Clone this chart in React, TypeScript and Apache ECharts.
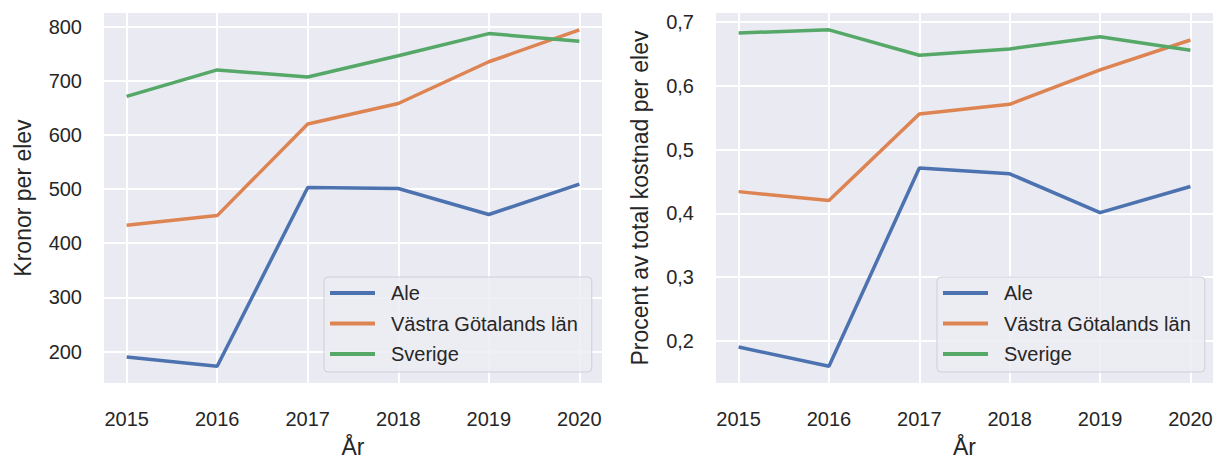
import React, { useEffect, useRef } from "react";
import * as echarts from "echarts";

const years = [2015, 2016, 2017, 2018, 2019, 2020];
const seriesNames = ["Ale", "Västra Götalands län", "Sverige"];
const kronorAle = [190, 173, 503, 501, 453, 509];
const kronorVGL = [433, 451, 620, 658, 735, 794];
const kronorSverige = [671, 720, 707, 746, 787, 773];
const procentAle = [0.19, 0.16, 0.471, 0.462, 0.401, 0.442];
const procentVGL = [0.434, 0.42, 0.556, 0.571, 0.625, 0.672];
const procentSverige = [0.683, 0.688, 0.648, 0.658, 0.677, 0.656];
const kronorTicks = [200, 300, 400, 500, 600, 700, 800];
const procentTicks = [0.2, 0.3, 0.4, 0.5, 0.6, 0.7];

const colors = ["#4C72B0", "#DD8452", "#55A868"];
const FONT = "Liberation Sans, Arial, sans-serif";
const TEXT = "#262626";

function pairs(vals: number[]) {
  return years.map((y, i) => [y, vals[i]]);
}

export default function App() {
  const ref = useRef<HTMLDivElement>(null);
  useEffect(() => {
    if (!ref.current) return;
    const chart = echarts.init(ref.current, undefined, { renderer: "svg" });
    const grids = [
      { left: 104, top: 13, width: 498, height: 370 },
      { left: 716, top: 13, width: 497, height: 370 },
    ].map((g) => ({
      ...g,
      show: true,
      backgroundColor: "#EAEAF2",
      borderWidth: 0,
      containLabel: false,
      outerBoundsMode: "none",
    }));
    const xAxisBase = (gi: number) => ({
      type: "value",
      gridIndex: gi,
      min: 2014.75,
      max: 2020.25,
      name: "År",
      nameLocation: "middle",
      nameGap: 52,
      nameTextStyle: { fontSize: 23, color: TEXT, fontFamily: FONT },
      axisLine: { show: false },
      axisTick: { show: false, customValues: years },
      axisLabel: {
        customValues: years,
        fontSize: 20,
        color: TEXT,
        fontFamily: FONT,
        margin: 26,
        formatter: (v: number) => String(v),
      },
      splitLine: { show: true, lineStyle: { color: "#FFFFFF", width: 2 } },
    });
    const yAxisBase = (gi: number, min: number, max: number, ticks: number[], name: string, gap: number, fmt: (v: number) => string) => ({
      type: "value",
      gridIndex: gi,
      min,
      max,
      name,
      nameLocation: "middle",
      nameGap: gap,
      nameTextStyle: { fontSize: 23, color: TEXT, fontFamily: FONT },
      axisLine: { show: false },
      axisTick: { show: false, customValues: ticks },
      axisLabel: {
        customValues: ticks,
        fontSize: 20,
        color: TEXT,
        fontFamily: FONT,
        margin: 22,
        formatter: fmt,
      },
      splitLine: { show: true, lineStyle: { color: "#FFFFFF", width: 2 } },
    });
    const leftData = [kronorAle, kronorVGL, kronorSverige];
    const rightData = [procentAle, procentVGL, procentSverige];
    const series: any[] = [];
    [leftData, rightData].forEach((set, gi) => {
      set.forEach((vals, si) => {
        series.push({
          type: "line",
          name: seriesNames[si],
          xAxisIndex: gi,
          yAxisIndex: gi,
          data: pairs(vals),
          showSymbol: false,
          symbol: "none",
          lineStyle: { color: colors[si], width: 3.5 },
          itemStyle: { color: colors[si] },
          z: 3,
        });
      });
    });
    const legendBase = (left: number) => ({
      orient: "vertical",
      left,
      top: 277,
      data: seriesNames,
      icon: "rect",
      itemWidth: 45,
      itemHeight: 4,
      itemGap: 8.5,
      padding: [5, 14, 7, 6],
      backgroundColor: "rgba(236,236,243,0.85)",
      borderColor: "#CFCFD6",
      borderWidth: 1,
      borderRadius: 4,
      selectedMode: false,
      textStyle: {
        fontSize: 20,
        color: TEXT,
        fontFamily: FONT,
        lineHeight: 22,
        padding: [0, 0, 0, 11],
      },
    });
    chart.setOption({
      animation: false,
      backgroundColor: "#FFFFFF",
      grid: grids,
      xAxis: [xAxisBase(0), xAxisBase(1)],
      yAxis: [
        yAxisBase(0, 142, 825, kronorTicks, "Kronor per elev", 70, (v: number) => String(v)),
        yAxisBase(1, 0.1336, 0.7144, procentTicks, "Procent av total kostnad per elev", 65, (v: number) =>
          v.toFixed(1).replace(".", ",")
        ),
      ],
      legend: [legendBase(324), legendBase(937)],
      series,
    });
    return () => chart.dispose();
  }, []);
  return (
    <div
      ref={ref}
      style={{ position: "fixed", left: 0, top: 0, width: 1217, height: 461 }}
    />
  );
}
